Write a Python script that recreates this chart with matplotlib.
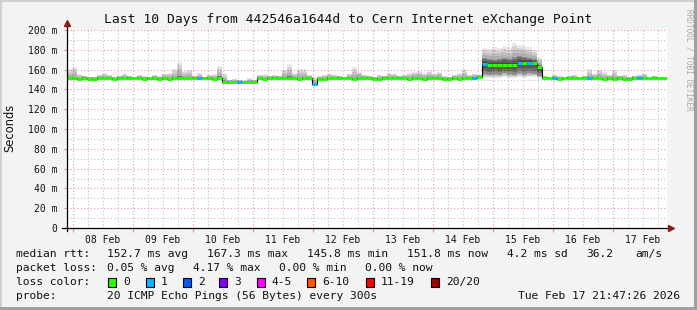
import datetime as dt
import matplotlib
matplotlib.use("Agg")
import matplotlib.pyplot as plt
import matplotlib.dates as mdates
from matplotlib.patches import Rectangle
import numpy as np

# ---------------- data ----------------
start = dt.datetime(2026, 2, 7, 21, 47, 26)
bin_hours = 2
n_bins = 120

median_ms = [
    152, 152, 151, 152, 151, 151, 152, 152, 152, 151,
    152, 152, 152, 152, 152, 151, 152, 152, 151, 152,
    151, 152, 152, 152, 152, 152, 152, 152, 152, 151,
    152, 147, 147, 147, 147, 147, 147, 147, 152, 151,
    152, 152, 152, 152, 152, 152, 151, 152, 152, 145,
    151, 151, 152, 152, 152, 152, 152, 151, 152, 152,
    152, 151, 151, 152, 152, 152, 152, 152, 151, 152,
    152, 151, 152, 152, 152, 151, 151, 152, 151, 152,
    152, 152, 153, 166, 165, 165, 165, 165, 165, 165,
    167, 167, 167, 167, 163, 152, 152, 152, 151, 152,
    152, 152, 152, 152, 152, 152, 152, 151, 152, 151,
    152, 151, 151, 152, 152, 152, 152, 152, 152, 152,
]

# max ping per bin
smoke_hi = [
    161, 163, 156, 154, 153, 153, 155, 157, 155, 153,
    154, 156, 154, 153, 155, 154, 153, 155, 154, 156,
    157, 161, 168, 159, 160, 154, 157, 153, 155, 156,
    164, 157, 150, 151, 150, 149, 152, 150, 155, 156,
    154, 155, 154, 160, 166, 157, 161, 161, 155, 153,
    154, 155, 156, 155, 154, 153, 156, 163, 158, 155,
    154, 153, 155, 154, 157, 156, 154, 155, 157, 158,
    159, 157, 159, 156, 158, 154, 153, 155, 157, 161,
    155, 156, 155, 182, 181, 183, 182, 184, 183, 187,
    185, 184, 183, 180, 172, 154, 153, 155, 154, 153,
    154, 155, 153, 154, 161, 156, 160, 158, 155, 160,
    154, 155, 153, 154, 155, 156, 153, 154, 153, 153,
]

# upper quartile per bin
smoke_q75 = [
    153, 153, 152, 153, 152, 152, 153, 153, 153, 152,
    153, 153, 153, 153, 153, 152, 153, 153, 152, 153,
    152, 153, 154, 153, 153, 153, 153, 153, 153, 152,
    154, 148, 148, 148, 148, 148, 148, 148, 153, 152,
    153, 153, 153, 153, 154, 153, 152, 153, 153, 146,
    152, 152, 153, 153, 153, 153, 153, 152, 153, 153,
    153, 152, 152, 153, 153, 153, 153, 153, 152, 153,
    153, 152, 153, 153, 153, 152, 152, 153, 152, 153,
    153, 153, 154, 172, 171, 170, 171, 172, 171, 173,
    174, 173, 172, 171, 165, 153, 153, 153, 152, 153,
    153, 153, 153, 153, 153, 153, 153, 152, 153, 152,
    153, 152, 152, 153, 153, 153, 153, 153, 153, 153,
]

# lower quartile per bin
smoke_q25 = [
    151, 151, 150, 151, 150, 150, 151, 151, 151, 150,
    151, 151, 151, 151, 151, 150, 151, 151, 150, 151,
    150, 151, 151, 151, 151, 151, 151, 151, 151, 150,
    151, 146, 146, 146, 146, 146, 146, 146, 151, 150,
    151, 151, 151, 151, 151, 151, 150, 151, 151, 144,
    150, 150, 151, 151, 151, 151, 151, 150, 151, 151,
    151, 150, 150, 151, 151, 151, 151, 151, 150, 151,
    151, 150, 151, 151, 151, 150, 150, 151, 150, 151,
    151, 151, 152, 156, 155, 156, 155, 157, 156, 155,
    157, 156, 157, 156, 154, 151, 151, 151, 150, 151,
    151, 151, 151, 151, 151, 151, 151, 150, 151, 150,
    151, 150, 150, 151, 151, 151, 151, 151, 151, 151,
]

# min ping per bin
smoke_lo = [
    151, 151, 150, 151, 150, 150, 151, 151, 151, 150,
    151, 151, 151, 151, 151, 150, 151, 151, 150, 151,
    150, 151, 151, 151, 151, 151, 151, 151, 151, 150,
    151, 146, 146, 146, 146, 146, 146, 146, 151, 150,
    151, 151, 151, 151, 151, 151, 150, 151, 151, 144,
    150, 150, 151, 151, 151, 151, 151, 150, 151, 151,
    151, 150, 150, 151, 151, 151, 151, 151, 150, 151,
    151, 150, 151, 151, 151, 150, 150, 151, 150, 151,
    151, 151, 152, 152, 152, 152, 152, 153, 152, 152,
    153, 152, 153, 153, 152, 151, 151, 151, 150, 151,
    151, 151, 151, 151, 151, 151, 151, 150, 151, 150,
    151, 150, 150, 151, 151, 151, 151, 151, 151, 151,
]

loss_idx = [0] * n_bins
for b in [26, 34, 49, 81, 83, 90, 92, 97, 104, 114]:
    loss_idx[b] = 1

loss_labels = ["0", "1", "2", "3", "4-5", "6-10", "11-19", "20/20"]
loss_colors = ["#26ff00", "#00b8ff", "#0059ff", "#7e00ff",
               "#ff00ff", "#ff5500", "#ff0000", "#a10000"]

y_ticks = list(range(0, 201, 20))
y_ticklabels = ["0"] + [f"{v} m" for v in y_ticks[1:]]

title = "Last 10 Days from 442546a1644d to Cern Internet eXchange Point"

# ---------------- figure ----------------
W, H = 697, 310
fig = plt.figure(figsize=(W / 100, H / 100), dpi=100)
fig.patch.set_facecolor("#f3f3f3")

def fx(px):
    return px / W

def fy(py):
    return 1 - py / H

ax_l, ax_r, ax_t, ax_b = 67, 667, 30, 228
ax = fig.add_axes([fx(ax_l), fy(ax_b), (ax_r - ax_l) / W, (ax_b - ax_t) / H])
ax.set_facecolor("white")
for s in ax.spines.values():
    s.set_visible(False)

edges = [start + dt.timedelta(hours=bin_hours * i) for i in range(n_bins + 1)]
xe = mdates.date2num(edges)
end = edges[-1]
ax.set_xlim(xe[0], xe[-1])
ax.set_ylim(0, 200)

# grid
minor_col = "#c0c0c0"
major_col = "#ee9a9a"
dots = (0, (1, 2))
t = start.replace(minute=0, second=0) + dt.timedelta(hours=3)
midnights = []
six_h = []
while t < end:
    if t > start:
        if t.hour == 0:
            midnights.append(t)
        elif t.hour % 6 == 0:
            six_h.append(t)
    t += dt.timedelta(hours=1)
for m in six_h:
    ax.axvline(mdates.date2num(m), color=minor_col, ls=dots, lw=0.8, zorder=1)
for v in range(10, 201, 20):
    ax.axhline(v, color=minor_col, ls=dots, lw=0.8, zorder=1)
for m in midnights:
    ax.axvline(mdates.date2num(m), color=major_col, ls=dots, lw=0.8, zorder=1.1)
for v in range(20, 201, 20):
    ax.axhline(v, color=major_col, ls=dots, lw=0.8, zorder=1.1)

# smoke
med = np.array(median_ms, dtype=float)
hi = np.array(smoke_hi, dtype=float)
lo = np.array(smoke_lo, dtype=float)
q75 = np.array(smoke_q75, dtype=float)
q25 = np.array(smoke_q25, dtype=float)

def band(l, h, alpha):
    ax.fill_between(xe, np.append(l, l[-1]), np.append(h, h[-1]), step="post",
                    color="black", alpha=alpha, lw=0, zorder=2)

N_out = 4
for k in range(1, N_out + 1):
    f = k / N_out
    band(q25 - (q25 - lo) * f, q75 + (hi - q75) * f, 0.085)
N_in = 4
for k in range(1, N_in + 1):
    f = k / N_in
    band(med - (med - q25) * f, med + (q75 - med) * f, 0.2)

# median line
ax.step(xe, np.append(med, med[-1]), where="post", color="black", lw=0.8, zorder=3)
ax.hlines(med, xe[:-1], xe[1:], colors=[loss_colors[i] for i in loss_idx],
          lw=2.2, zorder=4)

# axes lines and arrows
arrow_col = "#8b1a1a"
ax.plot([-0.008, 1.004], [0, 0], transform=ax.transAxes, color="black", lw=0.9,
        clip_on=False, zorder=5)
ax.plot([0, 0], [-0.015, 1.03], transform=ax.transAxes, color="black", lw=0.9,
        clip_on=False, zorder=5)
ax.plot([1.007], [0], marker=">", ms=4.5, color=arrow_col, transform=ax.transAxes,
        clip_on=False, zorder=6)
ax.plot([0], [1.035], marker="^", ms=4.5, color=arrow_col, transform=ax.transAxes,
        clip_on=False, zorder=6)

# ticks
noons = [mdates.date2num(m + dt.timedelta(hours=12)) for m in midnights]
ax.set_xticks(noons)
ax.set_xticklabels([m.strftime("%d %b") for m in midnights])
ax.set_xticks([mdates.date2num(m) for m in midnights], minor=True)
ax.tick_params(axis="x", which="major", length=0, pad=5)
ax.tick_params(axis="x", which="minor", length=3, color="#e09090", width=0.8)
ax.set_yticks(y_ticks)
ax.set_yticklabels(y_ticklabels)
ax.tick_params(axis="y", which="major", length=2, color="#e09090", width=0.8, pad=5)
for lab in ax.get_xticklabels() + ax.get_yticklabels():
    lab.set_family("DejaVu Sans Mono")
    lab.set_fontsize(7)
    lab.set_color("#111111")

# texts
mono = "DejaVu Sans Mono"
fig.text(fx(348), fy(19), title, family=mono, fontsize=9.4, ha="center", va="center",
         color="#111111")
fig.text(fx(10), fy(128), "Seconds", family="DejaVu Sans", fontsize=8.3, rotation=90,
         ha="center", va="center", color="#111111")
fig.text(fx(689), fy(60), "RRDTOOL / TOBI OETIKER", family=mono, fontsize=5.6,
         rotation=270, ha="center", va="center", color="#a9a9a9")

lfs = 8.1
rows_y = [254, 268, 282, 296]
row1 = [(16, "median rtt:"), (107, "152.7 ms avg"), (207, "167.3 ms max"),
        (307, "145.8 ms min"), (407, "151.8 ms now"), (507, "4.2 ms sd"),
        (586, "36.2"), (635, "am/s")]
for x, s in row1:
    fig.text(fx(x), fy(rows_y[0]), s, family=mono, fontsize=lfs, va="center", color="#111111")
row2 = [(16, "packet loss:"), (107, "0.05 % avg"), (193, "4.17 % max"),
        (279, "0.00 % min"), (365, "0.00 % now")]
for x, s in row2:
    fig.text(fx(x), fy(rows_y[1]), s, family=mono, fontsize=lfs, va="center", color="#111111")
fig.text(fx(16), fy(rows_y[2]), "loss color:", family=mono, fontsize=lfs, va="center",
         color="#111111")
box_x = [108, 146, 183, 219, 257, 307, 366, 431]
for bx, lab, col in zip(box_x, loss_labels, loss_colors):
    fig.add_artist(Rectangle((fx(bx), fy(rows_y[2] + 4.5)), 8 / W, 9 / H,
                             transform=fig.transFigure, facecolor=col,
                             edgecolor="black", lw=0.8))
    fig.text(fx(bx + 15), fy(rows_y[2]), lab, family=mono, fontsize=lfs, va="center",
             color="#111111")
fig.text(fx(16), fy(rows_y[3]), "probe:", family=mono, fontsize=lfs, va="center",
         color="#111111")
fig.text(fx(107), fy(rows_y[3]), "20 ICMP Echo Pings (56 Bytes) every 300s", family=mono,
         fontsize=lfs, va="center", color="#111111")
fig.text(fx(680), fy(rows_y[3]), "Tue Feb 17 21:47:26 2026", family=mono, fontsize=lfs,
         va="center", ha="right", color="#111111")

# outer border (shade)
fig.add_artist(Rectangle((0, 1 - 2 / H), 1, 2 / H, transform=fig.transFigure,
                         facecolor="#d0d0d0", lw=0))
fig.add_artist(Rectangle((0, 0), 2 / W, 1, transform=fig.transFigure,
                         facecolor="#d0d0d0", lw=0))
fig.add_artist(Rectangle((1 - 3 / W, 0), 3 / W, 1, transform=fig.transFigure,
                         facecolor="#a0a0a0", lw=0))
fig.add_artist(Rectangle((0, 0), 1, 3 / H, transform=fig.transFigure,
                         facecolor="#a0a0a0", lw=0))

fig.savefig("out.png", dpi=100, facecolor=fig.get_facecolor())
